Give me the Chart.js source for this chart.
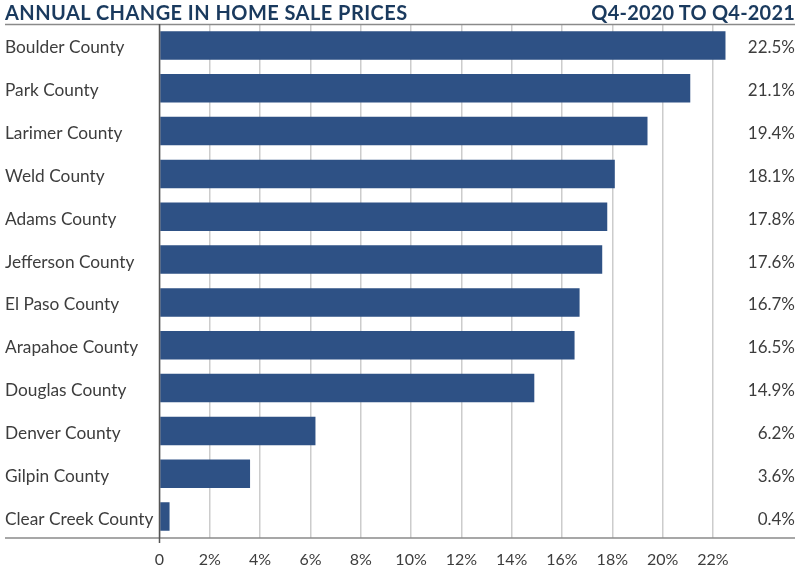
<!DOCTYPE html>
<html>
<head>
<meta charset="utf-8">
<script src="https://cdn.jsdelivr.net/npm/chart.js@4/dist/chart.umd.min.js"></script>
<style>
  html, body { margin: 0; padding: 0; background: #fff; }
  #wrap { position: relative; width: 800px; height: 580px; }
  #c { position: absolute; left: 0; top: 0; }
  .ttl { position: absolute; top: 1px; font-family: Lato, sans-serif; font-weight: bold; font-size: 20px; color: #1a3a5e; white-space: nowrap; line-height: 22px; }
  #tl { left: 5px; letter-spacing: 0.45px; }
  #tr { right: 5px; letter-spacing: 0.2px; }
</style>
</head>
<body>
<div id="wrap">
  <canvas id="c" width="800" height="580"></canvas>
  <div class="ttl" id="tl">ANNUAL CHANGE IN HOME SALE PRICES</div>
  <div class="ttl" id="tr">Q4-2020 TO Q4-2021</div>
</div>
<script>
const categories = ["Boulder County","Park County","Larimer County","Weld County","Adams County","Jefferson County","El Paso County","Arapahoe County","Douglas County","Denver County","Gilpin County","Clear Creek County"];
const values = [22.5, 21.1, 19.4, 18.1, 17.8, 17.6, 16.7, 16.5, 14.9, 6.2, 3.6, 0.4];
const valueLabels = ["22.5%","21.1%","19.4%","18.1%","17.8%","17.6%","16.7%","16.5%","14.9%","6.2%","3.6%","0.4%"];
const tickValues = [0, 2, 4, 6, 8, 10, 12, 14, 16, 18, 20, 22];
const tickLabels = ["0","2%","4%","6%","8%","10%","12%","14%","16%","18%","20%","22%"];

const frame = {
  id: 'frame',
  afterDraw(chart) {
    const ctx = chart.ctx, a = chart.chartArea;
    ctx.save();
    ctx.strokeStyle = '#8a8a8a';
    ctx.lineWidth = 1.5;
    ctx.beginPath();
    ctx.moveTo(5, a.top + 0.5); ctx.lineTo(795, a.top + 0.5);
    ctx.moveTo(5, a.bottom); ctx.lineTo(795, a.bottom);
    ctx.stroke();
    ctx.strokeStyle = '#555';
    ctx.beginPath();
    ctx.moveTo(a.left, a.top); ctx.lineTo(a.left, a.bottom + 5);
    ctx.stroke();
    // value labels
    const meta = chart.getDatasetMeta(0);
    ctx.fillStyle = '#3d3d3d';
    ctx.font = '17px Lato, sans-serif';
    ctx.textAlign = 'right';
    ctx.textBaseline = 'middle';
    meta.data.forEach((bar, i) => {
      ctx.fillText(valueLabels[i], 795, bar.y + 2.5);
    });
    ctx.restore();
  }
};

new Chart(document.getElementById('c'), {
  type: 'bar',
  data: {
    labels: categories,
    datasets: [{
      data: values,
      backgroundColor: '#2e5185',
      borderWidth: 0,
      barPercentage: 0.665,
      categoryPercentage: 1
    }]
  },
  options: {
    indexAxis: 'y',
    responsive: false,
    animation: false,
    devicePixelRatio: 1,
    layout: { padding: { left: 5, right: 72, top: 24, bottom: 0 } },
    plugins: { legend: { display: false }, tooltip: { enabled: false } },
    scales: {
      x: {
        type: 'linear',
        min: 0,
        max: 22.6,
        afterBuildTicks(scale) { scale.ticks = tickValues.map(v => ({ value: v })); },
        afterFit(scale) { scale.height = 42; },
        grid: { color: '#cccccc', lineWidth: 1.5, drawTicks: false },
        border: { display: false },
        ticks: {
          padding: 12,
          color: '#3d3d3d',
          font: { family: 'Lato', size: 16 },
          callback: (v) => { const i = tickValues.indexOf(v); return i >= 0 ? tickLabels[i] : ''; }
        }
      },
      y: {
        afterFit(scale) { scale.width = 154.5; },
        grid: { display: false, drawTicks: false },
        border: { display: false },
        ticks: {
          crossAlign: 'far',
          padding: 0,
          labelOffset: 2.5,
          color: '#3d3d3d',
          font: { family: 'Lato', size: 17.3 }
        }
      }
    }
  },
  plugins: [frame]
});
</script>
</body>
</html>
